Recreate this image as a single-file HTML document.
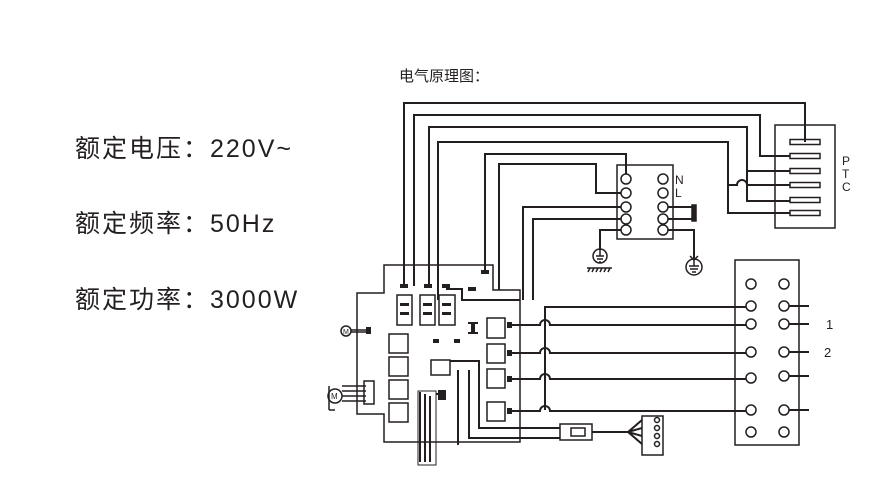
<!DOCTYPE html>
<html><head><meta charset="utf-8"><style>
html,body{margin:0;padding:0;background:#fff;}
svg{display:block;}
.t{font-family:"Liberation Sans","Noto Sans CJK SC",sans-serif;fill:#231f20;}
</style></head><body>
<svg width="886" height="496" viewBox="0 0 886 496" xmlns="http://www.w3.org/2000/svg">
<g class="t">
<text x="75" y="157" font-size="25" letter-spacing="2">额定电压：220V~</text>
<text x="75" y="232" font-size="25" letter-spacing="2">额定频率：50Hz</text>
<text x="75" y="308" font-size="25" letter-spacing="2">额定功率：3000W</text>
<text x="399" y="81" font-size="15">电气原理图：</text>
<text x="842" y="165" font-size="12">P</text>
<text x="842" y="178" font-size="12">T</text>
<text x="842" y="191" font-size="12">C</text>
<text x="675" y="184" font-size="12">N</text>
<text x="675" y="197" font-size="12">L</text>
<text x="826" y="329" font-size="13">1</text>
<text x="824" y="357" font-size="13">2</text>
</g>
<g fill="none" stroke="#231f20" stroke-width="2">
<!-- PTC wires -->
<path d="M404 286V103H805V142"/>
<path d="M414 286V115H760V156H790"/>
<path d="M429 286V127H747V201H790"/>
<path d="M438 300V142H728V213H790"/>
<path d="M747 171H790"/>
<path d="M728 185H737A5 5 0 0 1 747 185H790"/>
<!-- PTC box -->
<rect x="775" y="125" width="60" height="103" stroke-width="1.5"/>
<!-- terminal block wires -->
<path d="M485 272V154H626V174"/>
<path d="M499 290V164H596V193H621"/>
<path d="M523 300V207H621"/>
<path d="M533 300V219H621"/>
<path d="M621 230H600V250"/>
<path d="M668 207H694V219H668"/>
<path d="M668 230H694V258"/>
<rect x="617" y="165" width="56" height="74" stroke-width="1.5"/>
<!-- board -->
<path d="M384 265H493V290H520V442H384V414H357V293H384Z" stroke-width="1.5"/>
<!-- right block -->
<rect x="735" y="260" width="64" height="185" stroke-width="1.5"/>
<!-- bus lines -->
<path d="M545 410V307H746"/>
<path d="M510 325H540A5 5 0 0 1 550 325H746"/>
<path d="M510 353H540A5 5 0 0 1 550 353H746"/>
<path d="M510 379H540A5 5 0 0 1 550 379H746"/>
<path d="M510 411H540A5 5 0 0 1 550 411H746"/>
<path d="M789 306H809M789 324H809M789 352H809M789 376H809M789 410H809"/>
<!-- lower wiring -->
<path d="M450 361H479V428H560M458 370V445M469 370V438H560M592 432H628"/>
<path d="M628 432L642 420M628 432L642 428M628 432L642 436M628 432L642 444"/>
<rect x="560" y="424" width="32" height="16" stroke-width="1.5"/>
<rect x="642" y="416" width="21" height="39" stroke-width="1.5"/>
<path d="M420 392V462M425 394V462M430 396V462"/>
<rect x="418" y="391" width="18" height="74" stroke-width="1"/>
<path d="M436 394H446"/>
</g>
<g fill="none" stroke="#231f20" stroke-width="1.5">
<!-- PTC elements -->
<rect x="790" y="139.5" width="30" height="5"/><rect x="790" y="153.5" width="30" height="5"/>
<rect x="790" y="168.5" width="30" height="5"/><rect x="790" y="182.5" width="30" height="5"/>
<rect x="790" y="197.5" width="30" height="5"/><rect x="790" y="210.5" width="30" height="5"/>
<!-- terminal circles -->
<circle cx="626" cy="179" r="5"/><circle cx="626" cy="193" r="5"/><circle cx="626" cy="207" r="5"/><circle cx="626" cy="219" r="5"/><circle cx="626" cy="230" r="5"/>
<circle cx="663" cy="179" r="5"/><circle cx="663" cy="193" r="5"/><circle cx="663" cy="207" r="5"/><circle cx="663" cy="219" r="5"/><circle cx="663" cy="230" r="5"/>
<rect x="692" y="205" width="4" height="16" fill="#231f20"/>
<!-- grounds -->
<circle cx="600" cy="256" r="7"/><path d="M596 256H604M597 259H603M599 262H601M600 250V256M587 268H612M590 268L588 272M594 268L592 272M598 268L596 272M602 268L600 272M606 268L604 272M610 268L608 272"/>
<circle cx="694" cy="267" r="8"/><path d="M689 266H699M690 269H698M692 272H696M694 258V266M690 256L694 260L698 256"/>
<!-- relays -->
<rect x="397" y="295" width="15" height="30"/><rect x="420" y="295" width="15" height="30"/><rect x="439" y="295" width="16" height="30"/>
<!-- squares -->
<rect x="389" y="334" width="19" height="19"/><rect x="389" y="357" width="19" height="19"/><rect x="389" y="380" width="19" height="19"/><rect x="389" y="403" width="19" height="19"/>
<rect x="487" y="318" width="18" height="20"/><rect x="487" y="344" width="18" height="19"/><rect x="487" y="369" width="18" height="19"/><rect x="487" y="402" width="18" height="19"/>
<!-- right block circles -->
<circle cx="751" cy="284" r="5"/><circle cx="784" cy="284" r="5"/>
<circle cx="751" cy="306" r="5"/><circle cx="784" cy="306" r="5"/>
<circle cx="751" cy="324" r="5"/><circle cx="784" cy="324" r="5"/>
<circle cx="751" cy="352" r="5"/><circle cx="784" cy="352" r="5"/>
<circle cx="751" cy="378" r="5"/><circle cx="784" cy="376" r="5"/>
<circle cx="751" cy="410" r="5"/><circle cx="784" cy="410" r="5"/>
<circle cx="751" cy="432" r="5"/><circle cx="784" cy="432" r="5"/>
<!-- motors -->
<circle cx="346" cy="331" r="5"/><path d="M351 330H368M351 332H368"/>
<circle cx="335" cy="396" r="7"/><path d="M329 386V410M342 386H366M342 391H366M342 396H366M342 401H366M329 410H335"/>
<rect x="364" y="381" width="10" height="23"/>
<rect x="431" y="360" width="19" height="15"/>
<rect x="571" y="428" width="14" height="8"/>
<circle cx="657" cy="420" r="2.5"/><circle cx="657" cy="428" r="2.5"/><circle cx="657" cy="436" r="2.5"/><circle cx="657" cy="444" r="2.5"/>
</g>
<g fill="#231f20">
<text x="343" y="334" font-size="7" font-family="Liberation Sans" fill="#231f20">M</text>
<text x="331" y="399" font-size="8" font-family="Liberation Sans">M</text>
<rect x="366" y="327" width="5" height="7"/>
<rect x="400" y="284" width="8" height="4"/><rect x="424" y="284" width="8" height="4"/><rect x="442" y="284" width="8" height="4"/><rect x="468" y="287" width="8" height="4"/><rect x="481" y="270" width="8" height="4"/>
<rect x="400" y="303" width="9" height="3"/><rect x="400" y="312" width="9" height="3"/>
<rect x="423" y="303" width="9" height="3"/><rect x="423" y="312" width="9" height="3"/>
<rect x="442" y="303" width="9" height="3"/><rect x="442" y="312" width="9" height="3"/>
<rect x="433" y="339" width="6" height="4"/><rect x="454" y="339" width="6" height="4"/>
<rect x="471" y="323" width="4" height="10"/><rect x="468" y="322" width="10" height="2"/><rect x="468" y="332" width="10" height="2"/>
<rect x="507" y="322" width="5" height="6"/><rect x="507" y="350" width="5" height="6"/><rect x="507" y="376" width="5" height="6"/><rect x="507" y="408" width="5" height="6"/>
<rect x="438" y="390" width="8" height="10"/>
</g>
<path d="M446 289H462V300H520" fill="none" stroke="#231f20" stroke-width="2"/>
<path d="M455 305H533" fill="none" stroke="#231f20" stroke-width="0"/>
</svg>
</body></html>
